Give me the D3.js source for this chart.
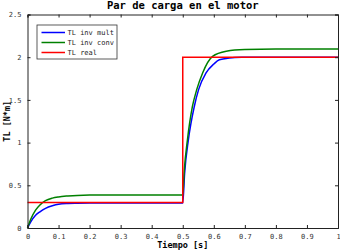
<!DOCTYPE html>
<html>
<head>
<meta charset="utf-8">
<script src="https://cdn.jsdelivr.net/npm/d3@7"></script>
<style>
  body { margin: 0; background: #fff; }
  svg { display: block; }
  text { font-family: "DejaVu Sans Mono", monospace; }
</style>
</head>
<body>
<div class="content"></div>
<script>
// values
var xTicks = [0, 0.1, 0.2, 0.3, 0.4, 0.5, 0.6, 0.7, 0.8, 0.9, 1];
var yTicks = [0, 0.5, 1, 1.5, 2, 2.5];

var tMult = [0, 0.01, 0.026, 0.04, 0.058, 0.08, 0.1, 0.13, 0.16, 0.2, 0.3, 0.4, 0.5,
             0.506, 0.518, 0.537, 0.551, 0.575, 0.6, 0.618, 0.65, 0.69, 0.75, 1.0];
var tlMult = [0, 0.07, 0.15, 0.19, 0.23, 0.26, 0.278, 0.287, 0.29, 0.292, 0.293, 0.293, 0.293,
              0.64, 1.03, 1.42, 1.62, 1.816, 1.92, 1.97, 1.99, 1.998, 2.0, 2.0];

var tConv = [0, 0.01, 0.026, 0.04, 0.058, 0.08, 0.1, 0.13, 0.16, 0.2, 0.3, 0.4, 0.5,
             0.505, 0.515, 0.531, 0.545, 0.564, 0.596, 0.64, 0.7, 0.8, 1.0];
var tlConv = [0, 0.1, 0.21, 0.27, 0.32, 0.35, 0.364, 0.375, 0.382, 0.385, 0.385, 0.385, 0.385,
              0.68, 1.03, 1.42, 1.62, 1.816, 2.01, 2.07, 2.09, 2.095, 2.095];

var tReal = [0, 0.5, 0.5, 1];
var tlReal = [0.3, 0.3, 2, 2];

var names = ['TL inv mult', 'TL inv conv', 'TL real'];
var colors = ['#0000ff', '#008000', '#ff0000'];

var W = 340, H = 251;
var plotLeft = 27.5, plotRight = 338, plotTop = 14.5, plotBottom = 228;

var svg = d3.select('.content').append('svg').attr('width', W).attr('height', H);

var x = d3.scaleLinear().domain([0, 1]).range([plotLeft, plotRight]);
var y = d3.scaleLinear().domain([0, 2.5]).range([plotBottom, plotTop]);

function zip(t, v) { return t.map(function(d, i) { return [d, v[i]]; }); }
var series = [zip(tMult, tlMult), zip(tConv, tlConv), zip(tReal, tlReal)];

var line = d3.line().x(function(d) { return x(d[0]); }).y(function(d) { return y(d[1]); })
  .curve(d3.curveMonotoneX);
var stepLine = d3.line().x(function(d) { return x(d[0]); }).y(function(d) { return y(d[1]); });

// plot lines
series.forEach(function(s, i) {
  svg.append('path')
    .attr('d', i == 2 ? stepLine(s) : line(s))
    .attr('fill', 'none')
    .attr('stroke', colors[i])
    .attr('stroke-width', 1.5);
});

// axes: ticks inward on all four sides
var tickFmt = function(d) { return d == 0 ? '0' : d3.format('')(d); };
svg.append('g').attr('transform', 'translate(0,' + plotBottom + ')')
  .call(d3.axisBottom(x).tickValues(xTicks).tickSize(-3).tickPadding(6).tickFormat(tickFmt));
svg.append('g').attr('transform', 'translate(0,' + plotTop + ')')
  .call(d3.axisTop(x).tickValues(xTicks).tickSize(-3).tickFormat(''));
svg.append('g').attr('transform', 'translate(' + plotLeft + ',0)')
  .call(d3.axisLeft(y).tickValues(yTicks).tickSize(-3).tickPadding(6).tickFormat(tickFmt));
svg.append('g').attr('transform', 'translate(' + plotRight + ',0)')
  .call(d3.axisRight(y).tickValues(yTicks).tickSize(-3).tickFormat(''));

svg.selectAll('.domain').attr('stroke', '#222').attr('stroke-width', 1);
svg.selectAll('.tick line').attr('stroke', '#222');
svg.selectAll('.tick text').attr('font-size', 7).attr('fill', '#333')
  .attr('font-family', '"DejaVu Sans Mono", monospace');

// legend
var lg = svg.append('g');
lg.append('rect').attr('x', 37).attr('y', 25).attr('width', 80).attr('height', 34)
  .attr('fill', '#fff').attr('stroke', '#333').attr('stroke-width', 0.8);
names.forEach(function(n, i) {
  var yy = 32.5 + i * 10;
  lg.append('line').attr('x1', 41.5).attr('x2', 65).attr('y1', yy).attr('y2', yy)
    .attr('stroke', colors[i]).attr('stroke-width', 1.5);
  lg.append('text').attr('x', 67.5).attr('y', yy + 2.3).attr('font-size', 7)
    .attr('fill', '#222').text(n);
});

// title and axis labels
var midX = (plotLeft + plotRight) / 2;
svg.append('text').attr('x', midX).attr('y', 9).attr('text-anchor', 'middle')
  .attr('font-size', 10.5).attr('font-weight', 'bold').text('Par de carga en el motor');
svg.append('text').attr('x', midX).attr('y', 247.5).attr('text-anchor', 'middle')
  .attr('font-size', 8.5).attr('font-weight', 'bold').text('Tiempo [s]');
svg.append('text').attr('transform', 'translate(10,' + (plotTop + plotBottom) / 2 + ') rotate(-90)')
  .attr('text-anchor', 'middle').attr('font-size', 8.5).attr('font-weight', 'bold').text('TL [N*m]');
</script>
</body>
</html>
